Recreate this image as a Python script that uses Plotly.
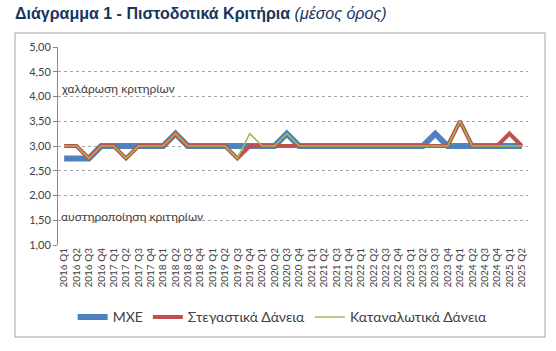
import plotly.graph_objects as go

categories = [f"{y} Q{q}" for y in range(2016, 2026) for q in range(1, 5)][:38]

mxe = [2.75, 2.75, 2.75, 3, 3, 3, 3, 3,
       3, 3.25, 3, 3, 3, 3, 3, 3,
       3, 3, 3.25, 3, 3, 3, 3, 3,
       3, 3, 3, 3, 3, 3, 3.25, 3,
       3, 3, 3, 3, 3, 3]
housing = [3, 3, 2.75, 3, 3, 2.75, 3, 3,
           3, 3.25, 3, 3, 3, 3, 2.75, 3,
           3, 3, 3, 3, 3, 3, 3, 3,
           3, 3, 3, 3, 3, 3, 3, 3,
           3.5, 3, 3, 3, 3.25, 3]
consumer = [3, 3, 2.75, 3, 3, 2.75, 3, 3,
            3, 3.25, 3, 3, 3, 3, 2.75, 3.25,
            3, 3, 3.25, 3, 3, 3, 3, 3,
            3, 3, 3, 3, 3, 3, 3, 3,
            3.5, 3, 3, 3, 3, 3]

series_names = ["ΜΧΕ", "Στεγαστικά Δάνεια", "Καταναλωτικά Δάνεια"]
y_ticks = [1, 1.5, 2, 2.5, 3, 3.5, 4, 4.5, 5]

W, H = 556, 351
fig = go.Figure()
fig.add_trace(go.Scatter(x=categories, y=mxe, name=series_names[0], mode="lines",
                         line=dict(color="#4F81BD", width=6)))
fig.add_trace(go.Scatter(x=categories, y=housing, name=series_names[1], mode="lines",
                         line=dict(color="#C0504D", width=4)))
fig.add_trace(go.Scatter(x=categories, y=consumer, name=series_names[2], mode="lines",
                         line=dict(color="#9BBB59", width=1.5)))

fig.update_layout(
    width=W, height=H,
    margin=dict(l=58, r=28, t=47, b=106),
    paper_bgcolor="white", plot_bgcolor="white",
    separators=",.",
    showlegend=True,
    legend=dict(orientation="h", x=0.478, xanchor="center", y=-0.285, yanchor="top",
                font=dict(family="Lato", size=14, color="#404040"),
                itemwidth=30, tracegroupgap=0),
    font=dict(family="Lato", size=10, color="#404040"),
)
fig.update_xaxes(type="category", showgrid=False, showline=False, tickangle=-90,
                 ticks="", tickfont=dict(family="Lato", size=10, color="#404040"),
                 range=[-0.5, 37.5])
fig.update_yaxes(range=[1, 5], tickvals=y_ticks, tickformat=".2f",
                 showgrid=True, gridcolor="#A6A6A6", griddash="dot", gridwidth=1,
                 showline=True, linecolor="#868686", linewidth=1,
                 ticks="outside", ticklen=4, tickcolor="#868686",
                 tickfont=dict(family="Lato", size=11, color="#404040"),
                 zeroline=False)

# chart border
fig.add_shape(type="rect", xref="paper", yref="paper",
              x0=(15 - 58) / (W - 58 - 28), x1=(545 - 58) / (W - 58 - 28),
              y0=-(337 - 245) / (245 - 47), y1=1 + (47 - 33) / (245 - 47),
              line=dict(color="#A0A0A0", width=1), layer="below")

fig.add_annotation(xref="paper", yref="y", x=0.003, y=4.16, xanchor="left",
                   text="χαλάρωση κριτηρίων", showarrow=False,
                   font=dict(family="Lato", size=12, color="#404040"))
fig.add_annotation(xref="paper", yref="y", x=0.003, y=1.57, xanchor="left",
                   text="αυστηροποίηση κριτηρίων", showarrow=False,
                   font=dict(family="Lato", size=12, color="#404040"))

fig.add_annotation(xref="paper", yref="paper", x=(13 - 58) / (W - 58 - 28),
                   y=1 + (47 - 13) / (245 - 47), xanchor="left", yanchor="middle",
                   text="<b>Διάγραμμα 1 - Πιστοδοτικά Κριτήρια</b> <i>(μέσος όρος)</i>",
                   showarrow=False,
                   font=dict(family="Liberation Sans", size=16, color="#17365D"))

fig.write_html("out.html")
